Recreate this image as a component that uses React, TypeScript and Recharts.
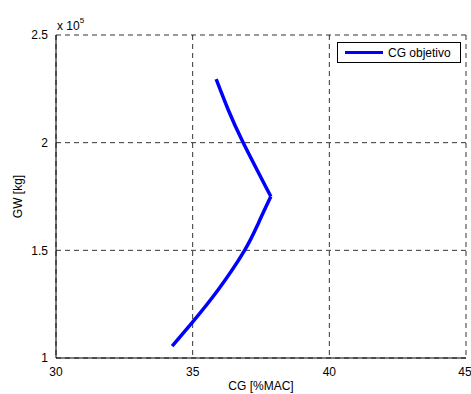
import { LineChart, Line, XAxis, YAxis, CartesianGrid } from "recharts";

// CG [%MAC] vs GW [kg]; curve split at the corner (max CG)
const gwLower = [105500, 116000, 131500, 150000, 162500, 175000];
const cgLower = [34.25, 34.95, 35.92, 36.9, 37.4, 37.86];
const gwUpper = [175000, 200000, 215300, 229500];
const cgUpper = [37.86, 36.85, 36.3, 35.86];
const xTicks = [30, 35, 40, 45];
const yTicks = [100000, 150000, 200000, 250000];

const lower = gwLower.map((gw, i) => ({ gw, cg: cgLower[i] }));
const upper = gwUpper.map((gw, i) => ({ gw, cg: cgUpper[i] }));

const font = "'Liberation Sans', Arial, sans-serif";
const tickStyle = { fontSize: 12, fill: "#000", fontFamily: font };

export default function App() {
  return (
    <div style={{ position: "absolute", left: 0, top: 0, width: 471, height: 394, background: "#fff" }}>
      <LineChart width={471} height={394} margin={{ top: 35, right: 5, bottom: 0, left: 0 }}>
        <CartesianGrid xAxisId="bottom" yAxisId="left" stroke="#000" strokeDasharray="5 4" strokeOpacity={0.8} />
        <XAxis
          xAxisId="bottom"
          dataKey="cg"
          type="number"
          domain={[30, 45]}
          ticks={xTicks}
          tickLine={false}
          axisLine={{ stroke: "#000" }}
          tick={tickStyle}
          tickMargin={3}
          height={36}
          allowDuplicatedCategory={false}
          label={{ value: "CG [%MAC]", position: "insideBottom", offset: 4, style: tickStyle }}
        />
        <XAxis xAxisId="top" orientation="top" dataKey="cg" type="number" domain={[30, 45]} ticks={xTicks} tick={false} tickLine={false} axisLine={{ stroke: "#000" }} height={0} />
        <YAxis
          yAxisId="left"
          dataKey="gw"
          type="number"
          domain={[100000, 250000]}
          ticks={yTicks}
          tickFormatter={(v: number) => String(v / 100000)}
          tickLine={false}
          axisLine={{ stroke: "#000" }}
          tick={tickStyle}
          tickMargin={2}
          width={56}
          label={{ value: "GW [kg]", angle: -90, position: "insideLeft", offset: 18, style: { ...tickStyle, textAnchor: "middle" } }}
        />
        <YAxis yAxisId="right" orientation="right" dataKey="gw" type="number" domain={[100000, 250000]} ticks={yTicks} tick={false} tickLine={false} axisLine={{ stroke: "#000" }} width={0} />
        <Line
          data={lower}
          xAxisId="bottom"
          yAxisId="left"
          dataKey="gw"
          type="natural"
          stroke="#0000ff"
          strokeWidth={3.5}
          dot={false}
          isAnimationActive={false}
        />
        <Line
          data={upper}
          xAxisId="bottom"
          yAxisId="left"
          dataKey="gw"
          type="natural"
          stroke="#0000ff"
          strokeWidth={3.5}
          dot={false}
          isAnimationActive={false}
        />
        <text x={57} y={30} style={{ fontSize: 12, fontFamily: font }} fill="#000">
          x 10<tspan dy={-7} style={{ fontSize: 8 }}>5</tspan>
        </text>
      </LineChart>
      <div
        style={{
          position: "absolute",
          left: 337,
          top: 42,
          width: 124,
          height: 21,
          boxSizing: "border-box",
          border: "1px solid #000",
          background: "#fff",
          display: "flex",
          alignItems: "center",
          paddingLeft: 7,
          fontFamily: font,
          fontSize: 12,
          color: "#000",
        }}
      >
        <span style={{ display: "inline-block", width: 38, height: 3, background: "#0000ff", marginRight: 5 }} />
        CG objetivo
      </div>
    </div>
  );
}
